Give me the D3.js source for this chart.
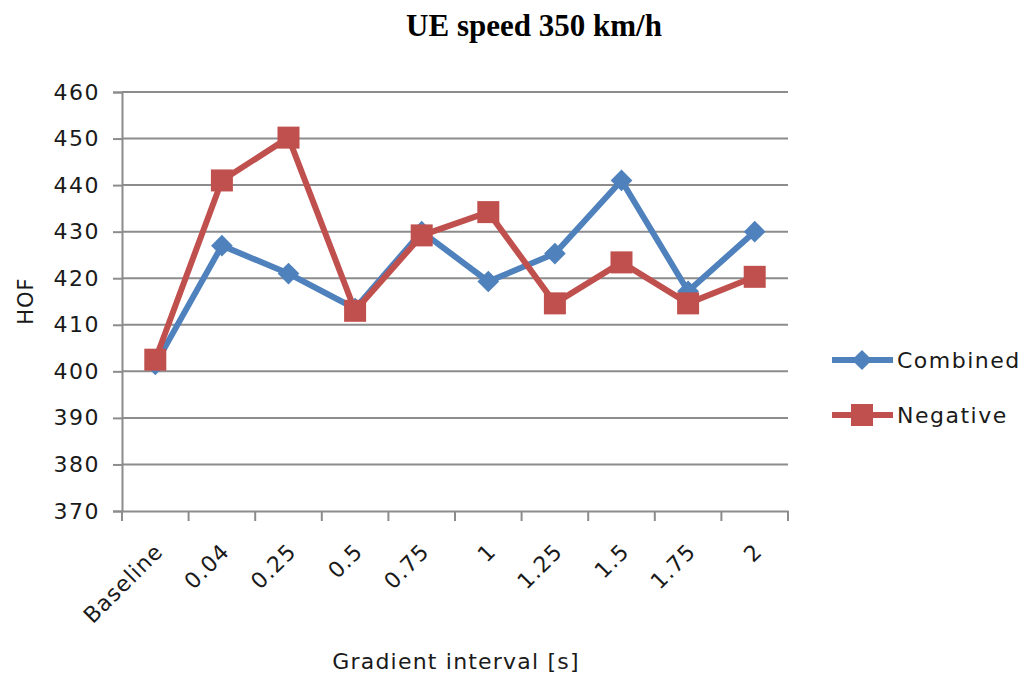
<!DOCTYPE html>
<html><head><meta charset="utf-8">
<script src="https://cdn.jsdelivr.net/npm/d3@7"></script>
<style>body{margin:0;background:#fff}svg{display:block}</style>
</head><body>
<script>
const categories = ["Baseline","0.04","0.25","0.5","0.75","1","1.25","1.5","1.75","2"];
const combined = [401.5,427,421,413.5,430,419.3,425.3,441,417.2,430];
const negative = [402.5,441,450.2,413,429.2,434.2,414.6,423.4,414.6,420.3];
const yTicks = [370,380,390,400,410,420,430,440,450,460];
const seriesNames = ["Combined","Negative"];
const colors = ["#4F81BD","#C0504D"];

(function(){
const W=1030,H=674;
const svg=d3.select("body").append("svg").attr("width",W).attr("height",H);
const pl=122,pr=788,pt=92,pb=511;
const x=d3.scaleBand().domain(categories).range([pl,pr]);
const y=d3.scaleLinear().domain([370,460]).range([pb,pt]);
const font="'DejaVu Sans', 'Liberation Sans', sans-serif";
const tc="#1a1a1a", gc="#8c8c8c";

svg.append("text").attr("x",534).attr("y",36).attr("text-anchor","middle")
  .attr("font-family","'Liberation Serif','Times New Roman',serif").attr("font-weight","bold")
  .attr("font-size",31).attr("fill","#000").text("UE speed 350 km/h");

// grid
svg.append("g").selectAll("line").data(yTicks.filter(d=>d>370)).join("line")
  .attr("x1",pl).attr("x2",pr).attr("y1",d=>y(d)).attr("y2",d=>y(d))
  .attr("stroke",gc).attr("stroke-width",2);

// y axis
const ya=svg.append("g").attr("transform",`translate(${pl},0)`)
  .call(d3.axisLeft(y).tickValues(yTicks).tickSize(9).tickPadding(13));
ya.select(".domain").attr("stroke",gc).attr("stroke-width",2);
ya.selectAll(".tick line").attr("stroke",gc).attr("stroke-width",2);
ya.selectAll("text").attr("font-family",font).attr("font-size",22).attr("letter-spacing","1.5px").attr("fill",tc);

// x axis
const xa=svg.append("g").attr("transform",`translate(0,${pb})`)
  .call(d3.axisBottom(x).tickSize(0).tickFormat(d=>d));
xa.select(".domain").attr("stroke",gc).attr("stroke-width",2);
xa.selectAll(".tick line").remove();
xa.selectAll(".tick text").attr("font-family",font).attr("font-size",22).attr("letter-spacing","1px").attr("fill",tc)
  .attr("text-anchor","end").attr("dy",null).attr("y",0)
  .attr("transform","translate(9,42) rotate(-45)");
// category boundary ticks
svg.append("g").selectAll("line").data(categories.concat(["_end"])).join("line")
  .attr("x1",(d,i)=>pl+i*x.bandwidth()).attr("x2",(d,i)=>pl+i*x.bandwidth())
  .attr("y1",pb).attr("y2",pb+10).attr("stroke",gc).attr("stroke-width",2);

svg.append("text").attr("x",456).attr("y",669).attr("text-anchor","middle")
  .attr("font-family",font).attr("font-size",22).attr("letter-spacing","1.2px").attr("fill",tc).text("Gradient interval [s]");
svg.append("text").attr("transform","translate(33,301) rotate(-90)").attr("text-anchor","middle")
  .attr("font-family",font).attr("font-size",21).attr("letter-spacing","1px").attr("fill",tc).text("HOF");

const cx=d=>x(d)+x.bandwidth()/2;
const line=d3.line().x((d,i)=>cx(categories[i])).y(d=>y(d));
const data=[combined,negative];
data.forEach((vals,k)=>{
  svg.append("path").datum(vals).attr("d",line).attr("fill","none")
    .attr("stroke",colors[k]).attr("stroke-width",6).attr("stroke-linejoin","round");
});
// markers
svg.append("g").selectAll("path").data(combined).join("path")
  .attr("d",d3.symbol(d3.symbolDiamond2,300)())
  .attr("transform",(d,i)=>`translate(${cx(categories[i])},${y(d)})`).attr("fill",colors[0]);
svg.append("g").selectAll("rect").data(negative).join("rect")
  .attr("x",(d,i)=>cx(categories[i])-11).attr("y",d=>y(d)-11).attr("width",22).attr("height",22)
  .attr("fill",colors[1]);

// legend
const ly=[360,415];
seriesNames.forEach((n,k)=>{
  svg.append("line").attr("x1",832).attr("x2",893).attr("y1",ly[k]).attr("y2",ly[k])
    .attr("stroke",colors[k]).attr("stroke-width",6);
  if(k===0) svg.append("path").attr("d",d3.symbol(d3.symbolDiamond2,260)())
    .attr("transform",`translate(862,${ly[k]})`).attr("fill",colors[k]);
  else svg.append("rect").attr("x",851).attr("y",ly[k]-11).attr("width",22).attr("height",22).attr("fill",colors[k]);
  svg.append("text").attr("x",897).attr("y",ly[k]+8).attr("font-family",font).attr("font-size",22)
    .attr("letter-spacing","1.5px").attr("fill",tc).text(n);
});
})();
</script>
</body></html>
